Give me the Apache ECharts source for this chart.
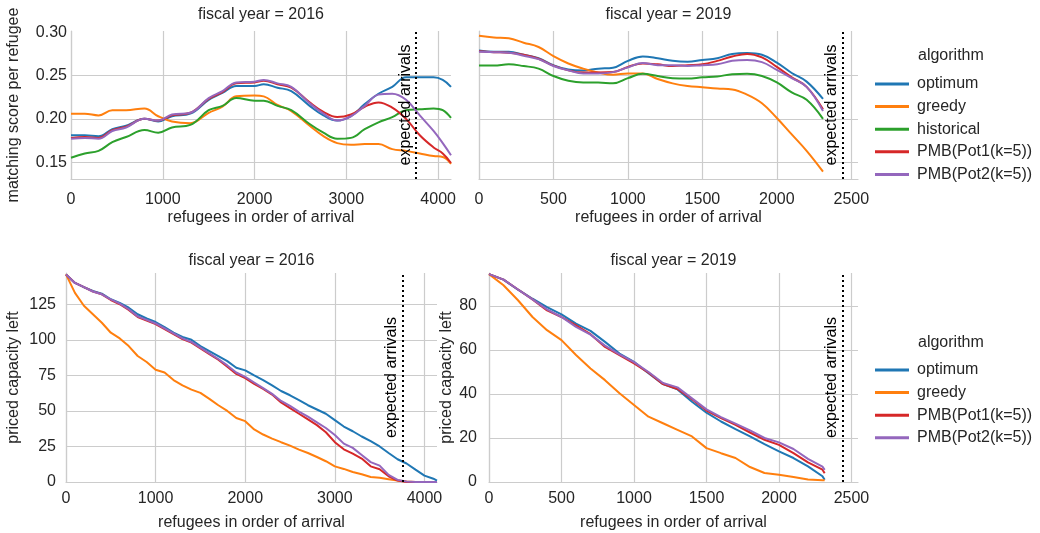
<!DOCTYPE html>
<html>
<head>
<meta charset="utf-8">
<script src="https://cdn.jsdelivr.net/npm/echarts@6/dist/echarts.min.js"></script>
<style>
html,body{margin:0;padding:0;background:#fff;}
#chart{width:1040px;height:533px;}
</style>
</head>
<body>
<div id="chart"></div>
<script>
// ---------------- DATA ----------------
const ALGOS = ['optimum', 'greedy', 'historical', 'PMB(Pot1(k=5))', 'PMB(Pot2(k=5))'];
const ALGOS_CAP = ['optimum', 'greedy', 'PMB(Pot1(k=5))', 'PMB(Pot2(k=5))'];
const EXPECTED_2016 = 3760;
const EXPECTED_2019 = 2440;

// matching score per refugee, fiscal year 2016
const X_SCORE_2016 = [0,150,300,450,600,800,950,1100,1300,1500,1650,1800,2000,2100,2250,2400,2600,2750,2900,3050,3200,3350,3500,3650,3800,3950,4050,4140];
const SCORE_2016_OPTIMUM = [0.181,0.181,0.180,0.188,0.192,0.200,0.197,0.203,0.206,0.222,0.230,0.238,0.238,0.240,0.236,0.232,0.215,0.204,0.198,0.203,0.217,0.229,0.237,0.248,0.248,0.248,0.245,0.237];
const SCORE_2016_GREEDY = [0.206,0.206,0.204,0.210,0.210,0.212,0.203,0.197,0.195,0.207,0.214,0.226,0.227,0.226,0.216,0.209,0.192,0.180,0.172,0.170,0.171,0.171,0.165,0.163,0.160,0.157,0.156,0.148];
const SCORE_2016_HISTORICAL = [0.155,0.160,0.163,0.173,0.179,0.187,0.184,0.190,0.193,0.210,0.215,0.224,0.221,0.221,0.215,0.210,0.194,0.184,0.177,0.178,0.188,0.196,0.202,0.210,0.211,0.212,0.210,0.201];
const SCORE_2016_PMB1 = [0.178,0.179,0.178,0.187,0.191,0.200,0.198,0.204,0.207,0.223,0.231,0.241,0.242,0.244,0.240,0.236,0.219,0.208,0.202,0.205,0.214,0.219,0.213,0.200,0.181,0.167,0.160,0.149];
const SCORE_2016_PMB2 = [0.177,0.178,0.177,0.186,0.190,0.200,0.198,0.205,0.207,0.224,0.232,0.242,0.243,0.245,0.241,0.237,0.218,0.206,0.198,0.203,0.215,0.228,0.229,0.222,0.204,0.186,0.172,0.158];

// matching score per refugee, fiscal year 2019
const X_SCORE_2019 = [0,100,200,300,400,500,600,700,800,900,1000,1100,1200,1300,1400,1500,1600,1700,1800,1900,2000,2100,2200,2310];
const SCORE_2019_OPTIMUM = [0.279,0.2775,0.2775,0.274,0.270,0.262,0.257,0.256,0.258,0.259,0.267,0.272,0.270,0.267,0.266,0.268,0.270,0.275,0.276,0.274,0.265,0.253,0.243,0.223];
const SCORE_2019_GREEDY = [0.296,0.294,0.293,0.288,0.283,0.2725,0.264,0.258,0.2535,0.251,0.2525,0.2525,0.246,0.241,0.238,0.2365,0.235,0.234,0.228,0.218,0.201,0.182,0.163,0.139];
const SCORE_2019_HISTORICAL = [0.2615,0.2615,0.263,0.261,0.258,0.2495,0.244,0.242,0.242,0.241,0.247,0.252,0.2495,0.247,0.2465,0.248,0.249,0.2515,0.252,0.2495,0.242,0.2305,0.222,0.200];
const SCORE_2019_PMB1 = [0.278,0.277,0.2765,0.274,0.2695,0.2615,0.256,0.2535,0.2535,0.254,0.260,0.264,0.263,0.261,0.262,0.263,0.267,0.272,0.275,0.271,0.260,0.248,0.237,0.211];
const SCORE_2019_PMB2 = [0.2775,0.277,0.2765,0.273,0.269,0.261,0.256,0.2525,0.2525,0.254,0.2595,0.2645,0.262,0.262,0.261,0.262,0.263,0.267,0.268,0.2655,0.2565,0.247,0.237,0.209];

// priced capacity left, fiscal year 2016
const X_CAP_2016 = [0,100,200,300,400,500,600,700,800,900,1000,1100,1200,1300,1400,1500,1600,1700,1800,1900,2000,2100,2200,2300,2400,2500,2600,2700,2800,2900,3000,3100,3200,3300,3400,3500,3600,3700,3800,3900,4000,4100,4140];
const CAP_2016_OPTIMUM = [146,140,137,134.4,132.5,128.5,126,122.6,118,115,112.5,109,105,102,100,95.6,92,88.6,85,80.4,78.5,75,71.7,68,64,61,57.6,54,51,48,43.5,39,35.7,32,28.7,25,20.4,16,13,8.7,4.5,2.3,1];
const CAP_2016_GREEDY = [146,133,124,118,112,105,101,95.6,88.6,84.4,79,77,71.7,68,65,62.7,58.5,54,50,45,42.8,37,33.4,30.5,28,25.6,22.8,20.4,17.6,14.6,11,9.2,7,5.4,3.5,3,2,1,0.3,0,0,0,0];
const CAP_2016_PMB1 = [146,140,137,134,132,128,125,121,116,113.5,111,107.5,104,100.5,98,94,90,86,81,76,73,69,65.5,61.5,56,52,48,44,40,35,28,23,20,16.5,11,9,4,1,0,0,0,0,0];
const CAP_2016_PMB2 = [146,140,137,134,132,128.5,125.5,121.5,116.5,114,111.5,108,104.5,101,98.5,94.5,90.5,86.5,82,77,74,70,66,62,57,53.5,49.5,46,42,38,33,27,24,19,14,11.5,5,1.5,0.3,0,0,0,0];

// priced capacity left, fiscal year 2019
const X_CAP_2019 = [0,100,200,300,400,500,600,700,800,900,1000,1100,1200,1300,1400,1500,1600,1700,1800,1900,2000,2100,2200,2300,2315];
const CAP_2019_OPTIMUM = [94.5,92,87.4,83.3,79.5,76.2,72,68.7,63.7,58.4,54.6,49.4,44.5,42.1,36.5,31.5,27.5,24,20.7,17.2,13.9,10.9,7.1,2.6,1];
const CAP_2019_GREEDY = [94.5,89.4,82.6,75,69,64.5,57.7,51.6,46.3,40.3,35,29.7,26.7,23.7,20.7,15.4,13.1,10.9,6.8,4.1,3.3,2.3,1.1,0.8,0.8];
const CAP_2019_PMB1 = [94.5,92,87.5,83,78,75,71.2,67.2,61.4,57.7,53.9,49.7,44.5,42.3,37.6,32.5,29,26,22.5,19.2,16.9,13.1,8.9,5.6,4];
const CAP_2019_PMB2 = [94.5,92,87.5,83,78.5,75,70.5,67,62,58,54.5,50,45,43,38,33,29.5,26.5,23.5,20,18,15,10.5,7,5.5];

// tick labels
const SCORE_TICKS = [0.15, 0.20, 0.25, 0.30];
const PANEL_TITLES = ['fiscal year = 2016', 'fiscal year = 2019', 'fiscal year = 2016', 'fiscal year = 2019'];

// ---------------- STYLE ----------------
const FONT = "'Liberation Sans', Arial, Helvetica, sans-serif";
const TEXT = '#262626';
const GRIDC = '#cccccc';
const COLORS = {
  'optimum': '#1f77b4',
  'greedy': '#ff7f0e',
  'historical': '#2ca02c',
  'PMB(Pot1(k=5))': '#d62728',
  'PMB(Pot2(k=5))': '#9467bd'
};

const GRIDS = [
  {left: 71, top: 31, width: 380, height: 148},
  {left: 479, top: 31, width: 379, height: 148},
  {left: 66, top: 273, width: 371, height: 209},
  {left: 489, top: 273, width: 369, height: 209}
];

function xAxisCfg(gi, max, interval, margin, nameGap) {
  return {
    type: 'value', gridIndex: gi, min: 0, max: max, interval: interval,
    name: 'refugees in order of arrival', nameLocation: 'middle', nameGap: nameGap,
    nameTextStyle: {fontSize: 16, color: TEXT, fontFamily: FONT},
    axisLine: {show: true, lineStyle: {color: GRIDC, width: 1.2}},
    axisTick: {show: false},
    axisLabel: {fontSize: 16, color: TEXT, fontFamily: FONT, margin: margin, showMaxLabel: false,
                formatter: v => String(v)},
    splitLine: {show: true, showMaxLine: false, lineStyle: {color: GRIDC, width: 1.2}}
  };
}

function yAxisCfg(gi, opts) {
  const base = {
    type: 'value', gridIndex: gi,
    axisLine: {show: true, lineStyle: {color: GRIDC, width: 1.2}},
    axisTick: {show: false},
    axisLabel: {fontSize: 16, color: TEXT, fontFamily: FONT},
    splitLine: {show: true, showMaxLine: false, lineStyle: {color: GRIDC, width: 1.2}},
    nameTextStyle: {fontSize: 16, color: TEXT, fontFamily: FONT}
  };
  return Object.assign(base, opts, {
    axisLabel: Object.assign({}, base.axisLabel, opts.axisLabel || {}),
    splitLine: Object.assign({}, base.splitLine, opts.splitLine || {}),
    axisTick: Object.assign({}, base.axisTick, opts.axisTick || {})
  });
}

function line(name, gi, xs, ys, smooth, expected) {
  const s = {
    type: 'line', name: name, xAxisIndex: gi, yAxisIndex: gi,
    data: xs.map((x, i) => [x, ys[i]]),
    symbol: 'none', showSymbol: false, smooth: smooth,
    lineStyle: {width: 2, color: COLORS[name]},
    itemStyle: {color: COLORS[name]},
    animation: false, z: 3
  };
  if (expected !== undefined) {
    s.markLine = {
      silent: true, symbol: ['none', 'none'], animation: false,
      lineStyle: {type: [2, 3], width: 2, color: '#000'},
      label: {show: true, formatter: 'expected arrivals', position: 'insideMiddleTop',
              distance: 3, fontSize: 16, color: '#000', fontFamily: FONT},
      data: [{xAxis: expected}]
    };
  }
  return s;
}

const series = [
  line('optimum', 0, X_SCORE_2016, SCORE_2016_OPTIMUM, 0.4, EXPECTED_2016),
  line('greedy', 0, X_SCORE_2016, SCORE_2016_GREEDY, 0.4),
  line('historical', 0, X_SCORE_2016, SCORE_2016_HISTORICAL, 0.4),
  line('PMB(Pot1(k=5))', 0, X_SCORE_2016, SCORE_2016_PMB1, 0.4),
  line('PMB(Pot2(k=5))', 0, X_SCORE_2016, SCORE_2016_PMB2, 0.4),

  line('optimum', 1, X_SCORE_2019, SCORE_2019_OPTIMUM, 0.4, EXPECTED_2019),
  line('greedy', 1, X_SCORE_2019, SCORE_2019_GREEDY, 0.4),
  line('historical', 1, X_SCORE_2019, SCORE_2019_HISTORICAL, 0.4),
  line('PMB(Pot1(k=5))', 1, X_SCORE_2019, SCORE_2019_PMB1, 0.4),
  line('PMB(Pot2(k=5))', 1, X_SCORE_2019, SCORE_2019_PMB2, 0.4),

  line('optimum', 2, X_CAP_2016, CAP_2016_OPTIMUM, false, EXPECTED_2016),
  line('greedy', 2, X_CAP_2016, CAP_2016_GREEDY, false),
  line('PMB(Pot1(k=5))', 2, X_CAP_2016, CAP_2016_PMB1, false),
  line('PMB(Pot2(k=5))', 2, X_CAP_2016, CAP_2016_PMB2, false),

  line('optimum', 3, X_CAP_2019, CAP_2019_OPTIMUM, false, EXPECTED_2019),
  line('greedy', 3, X_CAP_2019, CAP_2019_GREEDY, false),
  line('PMB(Pot1(k=5))', 3, X_CAP_2019, CAP_2019_PMB1, false),
  line('PMB(Pot2(k=5))', 3, X_CAP_2019, CAP_2019_PMB2, false)
];

const legendText = {fontSize: 16, color: TEXT, fontFamily: FONT, lineHeight: 18, padding: [0, 0, 0, 3]};

const option = {
  backgroundColor: '#ffffff',
  animation: false,
  textStyle: {fontFamily: FONT},
  title: GRIDS.map((g, i) => ({
    text: PANEL_TITLES[i], left: g.left + g.width / 2, top: i < 2 ? 7 : 253,
    textAlign: 'center', padding: 0,
    textStyle: {fontSize: 16, fontWeight: 'normal', color: TEXT, fontFamily: FONT}
  })),
  grid: GRIDS.map(g => Object.assign({containLabel: false}, g)),
  xAxis: [
    xAxisCfg(0, 4140, 1000, 13, 31),
    xAxisCfg(1, 2545, 500, 13, 31),
    xAxisCfg(2, 4140, 1000, 9, 33),
    xAxisCfg(3, 2545, 500, 9, 33)
  ],
  yAxis: [
    yAxisCfg(0, {min: 0.1305, max: 0.3015,
      name: 'matching score per refugee', nameLocation: 'middle', nameGap: 49,
      axisLabel: {margin: 4, customValues: SCORE_TICKS, formatter: v => v.toFixed(2)},
      axisTick: {customValues: SCORE_TICKS}}),
    yAxisCfg(1, {min: 0.1305, max: 0.3015,
      axisLabel: {show: false, customValues: SCORE_TICKS},
      axisTick: {customValues: SCORE_TICKS}}),
    yAxisCfg(2, {min: 0, max: 147, interval: 25,
      name: 'priced capacity left', nameLocation: 'middle', nameGap: 44,
      axisLabel: {margin: 10, showMaxLabel: false}}),
    yAxisCfg(3, {min: 0, max: 95, interval: 20,
      name: 'priced capacity left', nameLocation: 'middle', nameGap: 34,
      axisLabel: {margin: 12, showMaxLabel: false}})
  ],
  legend: [
    {data: ALGOS, orient: 'vertical', left: 870, top: 70, itemWidth: 34, itemHeight: 3,
     icon: 'rect', itemGap: 4.6, selectedMode: false, textStyle: legendText},
    {data: ALGOS_CAP, orient: 'vertical', left: 870, top: 356, itemWidth: 34, itemHeight: 3,
     icon: 'rect', itemGap: 4.6, selectedMode: false, textStyle: legendText}
  ],
  graphic: [
    {type: 'text', left: 918, top: 48, style: {text: 'algorithm', fontSize: 16, fill: TEXT, fontFamily: FONT}},
    {type: 'text', left: 918, top: 335, style: {text: 'algorithm', fontSize: 16, fill: TEXT, fontFamily: FONT}}
  ],
  series: series
};

const chart = echarts.init(document.getElementById('chart'), null, {renderer: 'canvas'});
chart.setOption(option);
</script>
</body>
</html>
